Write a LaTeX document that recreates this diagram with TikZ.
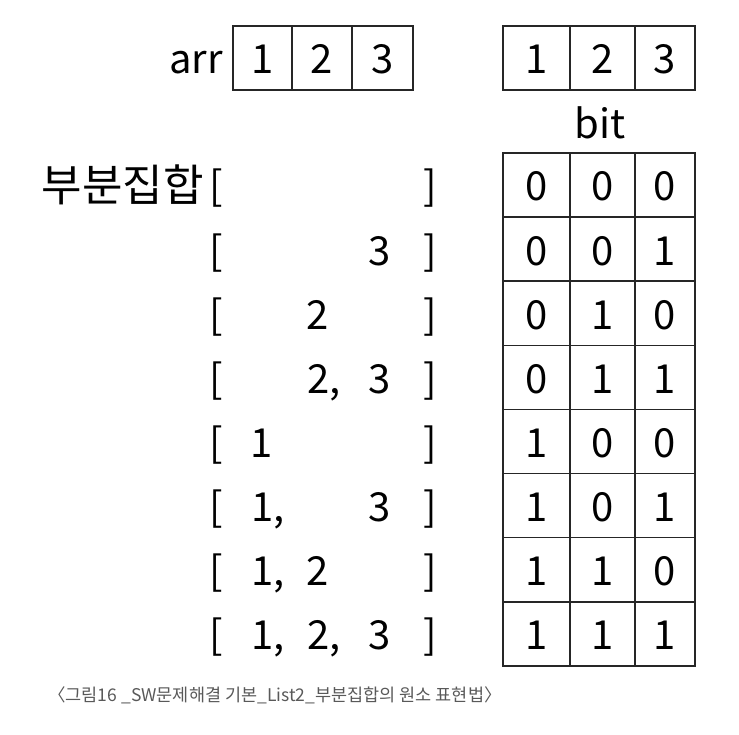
\documentclass[tikz,border=0pt]{standalone}
\usepackage{fontspec}
\setmainfont{Noto Sans CJK KR}
\tikzset{
  txt/.style={font=\fontsize{40}{40}\selectfont, inner sep=0pt, anchor=base},
  cell/.style={line width=1.6pt, color=black!85},
  caption/.style={font=\fontsize{17.5}{17.5}\selectfont, inner sep=0pt, color=black!65}
}

\begin{document}
\begin{tikzpicture}[x=1pt,y=-1pt]
	%%%%% START %%%%%
	\useasboundingbox (0,0) rectangle (739,735);
	
	% arr
	\node[txt, anchor=base east] (arrname) at (223,74) {arr};
	\draw[cell] (233,26) rectangle (413,90);
	\draw[cell] (292,26) -- (292,90);
	\draw[cell] (352,26) -- (352,90);
	\node[txt] (arr1) at (262.5,74) {1};
	\node[txt] (arr2) at (322,74) {2};
	\node[txt] (arr3) at (382.5,74) {3};
	
	% bit head
	\draw[cell] (503,26) rectangle (695,90);
	\draw[cell] (570,26) -- (570,90);
	\draw[cell] (635,26) -- (635,90);
	\node[txt] (head1) at (536.5,74) {1};
	\node[txt] (head2) at (602.5,74) {2};
	\node[txt] (head3) at (665,74) {3};
	\node[txt] (bitname) at (600,139) {bit};
	
	% bit table
	\draw[cell] (503,153) rectangle (695,666);
	\draw[cell] (570,153) -- (570,666);
	\draw[cell] (635,153) -- (635,666);
	\foreach \r in {1,...,7}
		\draw[cell] (503,{153+64.1*\r}) -- (695,{153+64.1*\r});
	\foreach \a/\b/\c [count=\r from 0] in {0/0/0,0/0/1,0/1/0,0/1/1,1/0/0,1/0/1,1/1/0,1/1/1} {
		\pgfmathsetmacro\yb{153+64.1*\r+48}
		\node[txt] (bit\r a) at (536.5,\yb) {\a};
		\node[txt] (bit\r b) at (602.5,\yb) {\b};
		\node[txt] (bit\r c) at (665,\yb) {\c};
		\node[txt] (lb\r) at (216,\yb) {[};
		\node[txt] (rb\r) at (430,\yb) {]};
	}
	
	% subsets
	\node[txt, anchor=base east, font=\fontsize{44}{44}\selectfont] (subname) at (204,202) {부분집합};
	\node[txt] (s1c) at (380,265.1) {3};
	\node[txt] (s2b) at (318,329.2) {2};
	\node[txt, anchor=base west] (s3b) at (307,393.3) {2,};
	\node[txt] (s3c) at (380,393.3) {3};
	\node[txt] (s4a) at (262,457.4) {1};
	\node[txt, anchor=base west] (s5a) at (251,521.5) {1,};
	\node[txt] (s5c) at (380,521.5) {3};
	\node[txt, anchor=base west] (s6a) at (251,585.6) {1,};
	\node[txt] (s6b) at (318,585.6) {2};
	\node[txt, anchor=base west] (s7a) at (251,649.7) {1,};
	\node[txt, anchor=base west] (s7b) at (307,649.7) {2,};
	\node[txt] (s7c) at (380,649.7) {3};
	
	\node[caption, anchor=west] (cap) at (48,695) {〈그림16 \_SW문제해결 기본\_List2\_부분집합의 원소 표현법〉};
	%%%%% END %%%%%
\end{tikzpicture}
\end{document}
